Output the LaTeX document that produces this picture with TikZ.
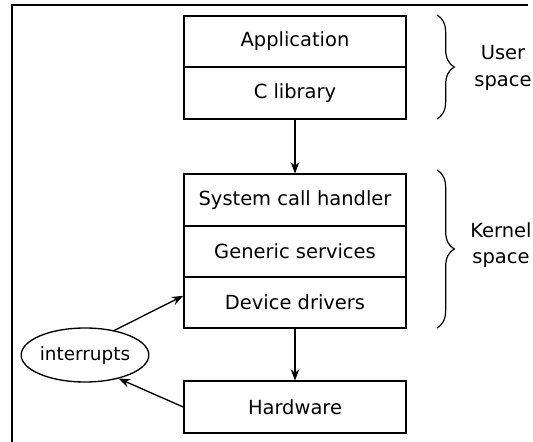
\documentclass[tikz,border=0pt]{standalone}
\usepackage{fontspec}
\setmainfont{DejaVu Sans}
\usetikzlibrary{arrows.meta,shapes.geometric,decorations.pathreplacing}

\tikzset{
  layer/.style={draw, line width=1.2pt, minimum width=166.5pt, minimum height=38.6pt, inner sep=0pt, font=\fontsize{14.6}{17}\selectfont},
  flow/.style={-{Stealth[length=8.5pt,width=6.5pt]}, line width=1pt},
  bracket/.style={decorate, decoration={brace, amplitude=13pt}, line width=0.9pt},
  side/.style={align=center, font=\fontsize{14.6}{19.8}\selectfont}
}

\begin{document}
\begin{tikzpicture}[x=0.75pt, y=-0.75pt]
  \useasboundingbox (0,0) rectangle (533,442);
  \draw [line width=1.1pt] (12,442) -- (12,5) -- (528,5);
  % user space
  \node [layer] at (295,41.5) (app)  {Application};
  \node [layer] at (295,93)   (clib) {C library};
  % kernel space
  \node [layer] at (295,200)   (sys) {System call handler};
  \node [layer] at (295,251.5) (gen) {Generic services};
  \node [layer] at (295,302.5) (dev) {Device drivers};
  \node [layer] at (295,407)   (hw)  {Hardware};
  \node [draw, ellipse, line width=1pt, minimum width=94pt, minimum height=40.5pt, inner sep=0pt, font=\fontsize{13.8}{15}\selectfont] at (85,355) (irq) {interrupts};
  \draw [flow] (clib.south) -- (sys.north);
  \draw [flow] (dev.south) -- (hw.north);
  \draw [flow] (irq.40) -- ([yshift=5pt]dev.west);
  \draw [flow] (hw.west) -- (irq.-35);
  \draw [bracket] (437,15) -- (437,119);
  \draw [bracket] (437,170) -- (437,328);
  \node [side] at (503,68) (user) {User\\space};
  \node [side] at (501,245) (kern) {Kernel\\space};
\end{tikzpicture}
\end{document}
